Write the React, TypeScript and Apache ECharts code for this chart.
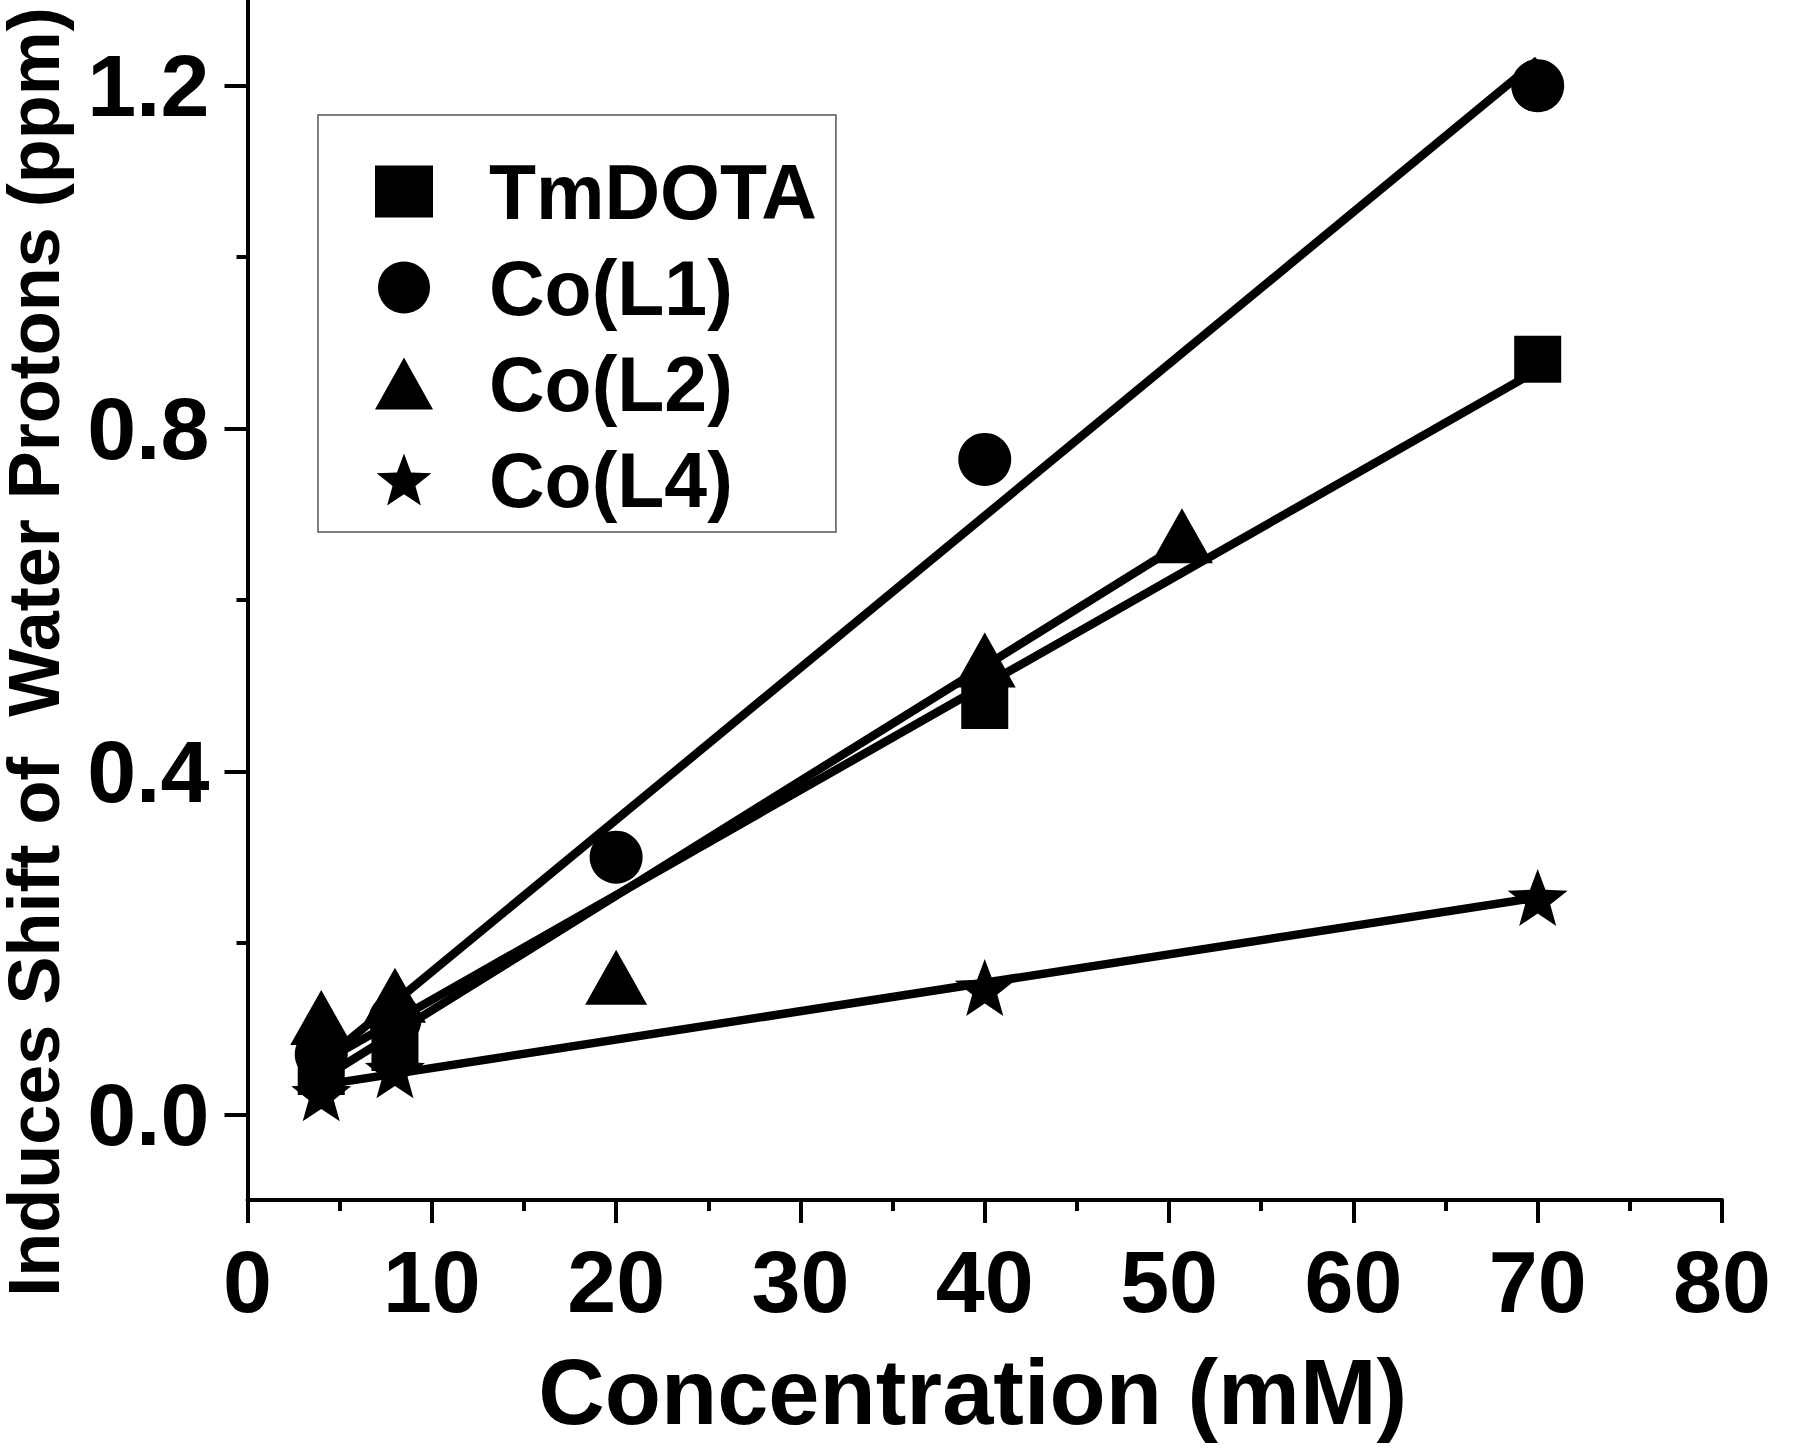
import React, { useEffect, useRef } from "react";
import * as echarts from "echarts";

// ---- data ----
const seriesNames = ["TmDOTA", "Co(L1)", "Co(L2)", "Co(L4)"];

const tmdotaPts = [[4, 0.05], [8, 0.078], [40, 0.477], [70, 0.881]];
const coL1Pts = [[4, 0.07], [8, 0.11], [20, 0.3], [40, 0.764], [70, 1.2]];
const coL2Pts = [[4, 0.113], [8, 0.139], [20, 0.16], [40, 0.53], [50.7, 0.675]];
const coL4Pts = [[4, 0.025], [8, 0.052], [40, 0.148], [70, 0.253]];

// fitted straight lines (end points)
const tmdotaFit = [[4, 0.06], [70, 0.868]];
const coL1Fit = [[4, 0.06], [70, 1.23]];
const coL2Fit = [[4, 0.041], [50.7, 0.666]];
const coL4Fit = [[4, 0.034], [70, 0.253]];

const yMajorTicks = [0, 0.4, 0.8, 1.2];
const yMinorTicks = [0.2, 0.6, 1.0];

const xTitle = "Concentration (mM)";
const yTitle = "Induces Shift of  Water Protons (ppm)";

const STAR =
  "path://M0,-50L12.3,-16.9L47.55,-15.45L19.9,6.5L29.39,40.45L0,20.9L-29.39,40.45L-19.9,6.5L-47.55,-15.45L-12.3,-16.9Z";

const FONT = "'Liberation Sans', Arial, Helvetica, sans-serif";

export default function App() {
  const ref = useRef<HTMLDivElement>(null);

  useEffect(() => {
    if (!ref.current) return;
    const chart = echarts.init(ref.current, undefined, { renderer: "svg" });

    const axisLineStyle = { color: "#000", width: 4 };

    const scatter = (name: string, data: number[][], symbol: string, size: any) => ({
      name,
      type: "scatter",
      data,
      symbol,
      symbolSize: size,
      itemStyle: { color: "#000", opacity: 1 },
      z: 3,
    });
    const fit = (name: string, data: number[][]) => ({
      name,
      type: "line",
      data,
      symbol: "none",
      lineStyle: { color: "#000", width: 8.5 },
      z: 2,
      silent: true,
    });

    chart.setOption({
      animation: false,
      backgroundColor: "#fff",
      textStyle: { fontFamily: FONT },
      grid: {
        left: 247.5,
        right: 78,
        top: 0,
        bottom: 251,
        containLabel: false,
        outerBoundsMode: "none",
      },
      graphic: [
        {
          type: "text",
          x: 34,
          y: 652,
          rotation: Math.PI / 2,
          style: {
            text: yTitle,
            fontFamily: FONT,
            fontWeight: "bold",
            fontSize: 72,
            lineHeight: 66,
            fill: "#000",
            textAlign: "center",
            textVerticalAlign: "middle",
          },
        },
      ],
      legend: {
        data: seriesNames,
        orient: "vertical",
        left: 318,
        top: 115,
        padding: [38, 19, 14, 57],
        itemGap: 19,
        itemWidth: 58,
        itemHeight: 52,
        borderColor: "#555",
        borderWidth: 1.5,
        selectedMode: false,
        textStyle: {
          fontFamily: FONT,
          fontWeight: "bold",
          fontSize: 77,
          color: "#000",
          padding: [0, 0, 0, 51],
        },
      },
      xAxis: {
        type: "value",
        min: 0,
        max: 80,
        interval: 10,
        name: xTitle,
        nameLocation: "middle",
        nameGap: 146,
        nameTextStyle: {
          fontFamily: FONT,
          fontWeight: "bold",
          fontSize: 92,
          color: "#000",
          padding: [0, 24, 0, 0],
        },
        axisLine: { show: true, onZero: false, lineStyle: axisLineStyle },
        axisTick: { show: true, inside: false, length: 23, lineStyle: axisLineStyle },
        minorTick: { show: true, splitNumber: 2, length: 11, lineStyle: axisLineStyle },
        axisLabel: {
          margin: 37,
          fontFamily: FONT,
          fontWeight: "bold",
          fontSize: 88,
          color: "#000",
        },
        splitLine: { show: false },
        minorSplitLine: { show: false },
      },
      yAxis: [
        {
          type: "value",
          min: -0.1,
          max: 1.3,
          position: "left",
          axisLine: { show: true, onZero: false, lineStyle: axisLineStyle },
          axisTick: {
            show: true,
            inside: false,
            length: 23,
            lineStyle: axisLineStyle,
            customValues: yMajorTicks,
          },
          axisLabel: {
            margin: 38,
            fontFamily: FONT,
            fontWeight: "bold",
            fontSize: 88,
            color: "#000",
            customValues: yMajorTicks,
            formatter: (v: number) => v.toFixed(1),
          },
          splitLine: { show: false },
        },
        {
          type: "value",
          min: -0.1,
          max: 1.3,
          position: "left",
          axisLine: { show: false, onZero: false },
          axisTick: {
            show: true,
            inside: false,
            length: 11,
            lineStyle: axisLineStyle,
            customValues: yMinorTicks,
          },
          axisLabel: { show: false },
          splitLine: { show: false },
        },
      ],
      series: [
        fit("TmDOTA fit", tmdotaFit),
        fit("Co(L1) fit", coL1Fit),
        fit("Co(L2) fit", coL2Fit),
        fit("Co(L4) fit", coL4Fit),
        scatter("TmDOTA", tmdotaPts, "rect", 47),
        scatter("Co(L1)", coL1Pts, "circle", 53),
        scatter("Co(L2)", coL2Pts, "triangle", [62, 55]),
        scatter("Co(L4)", coL4Pts, STAR, [60, 57]),
      ],
    });

    return () => chart.dispose();
  }, []);

  return (
    <div
      ref={ref}
      style={{ position: "absolute", left: 0, top: 0, width: 1800, height: 1451, background: "#fff" }}
    />
  );
}
